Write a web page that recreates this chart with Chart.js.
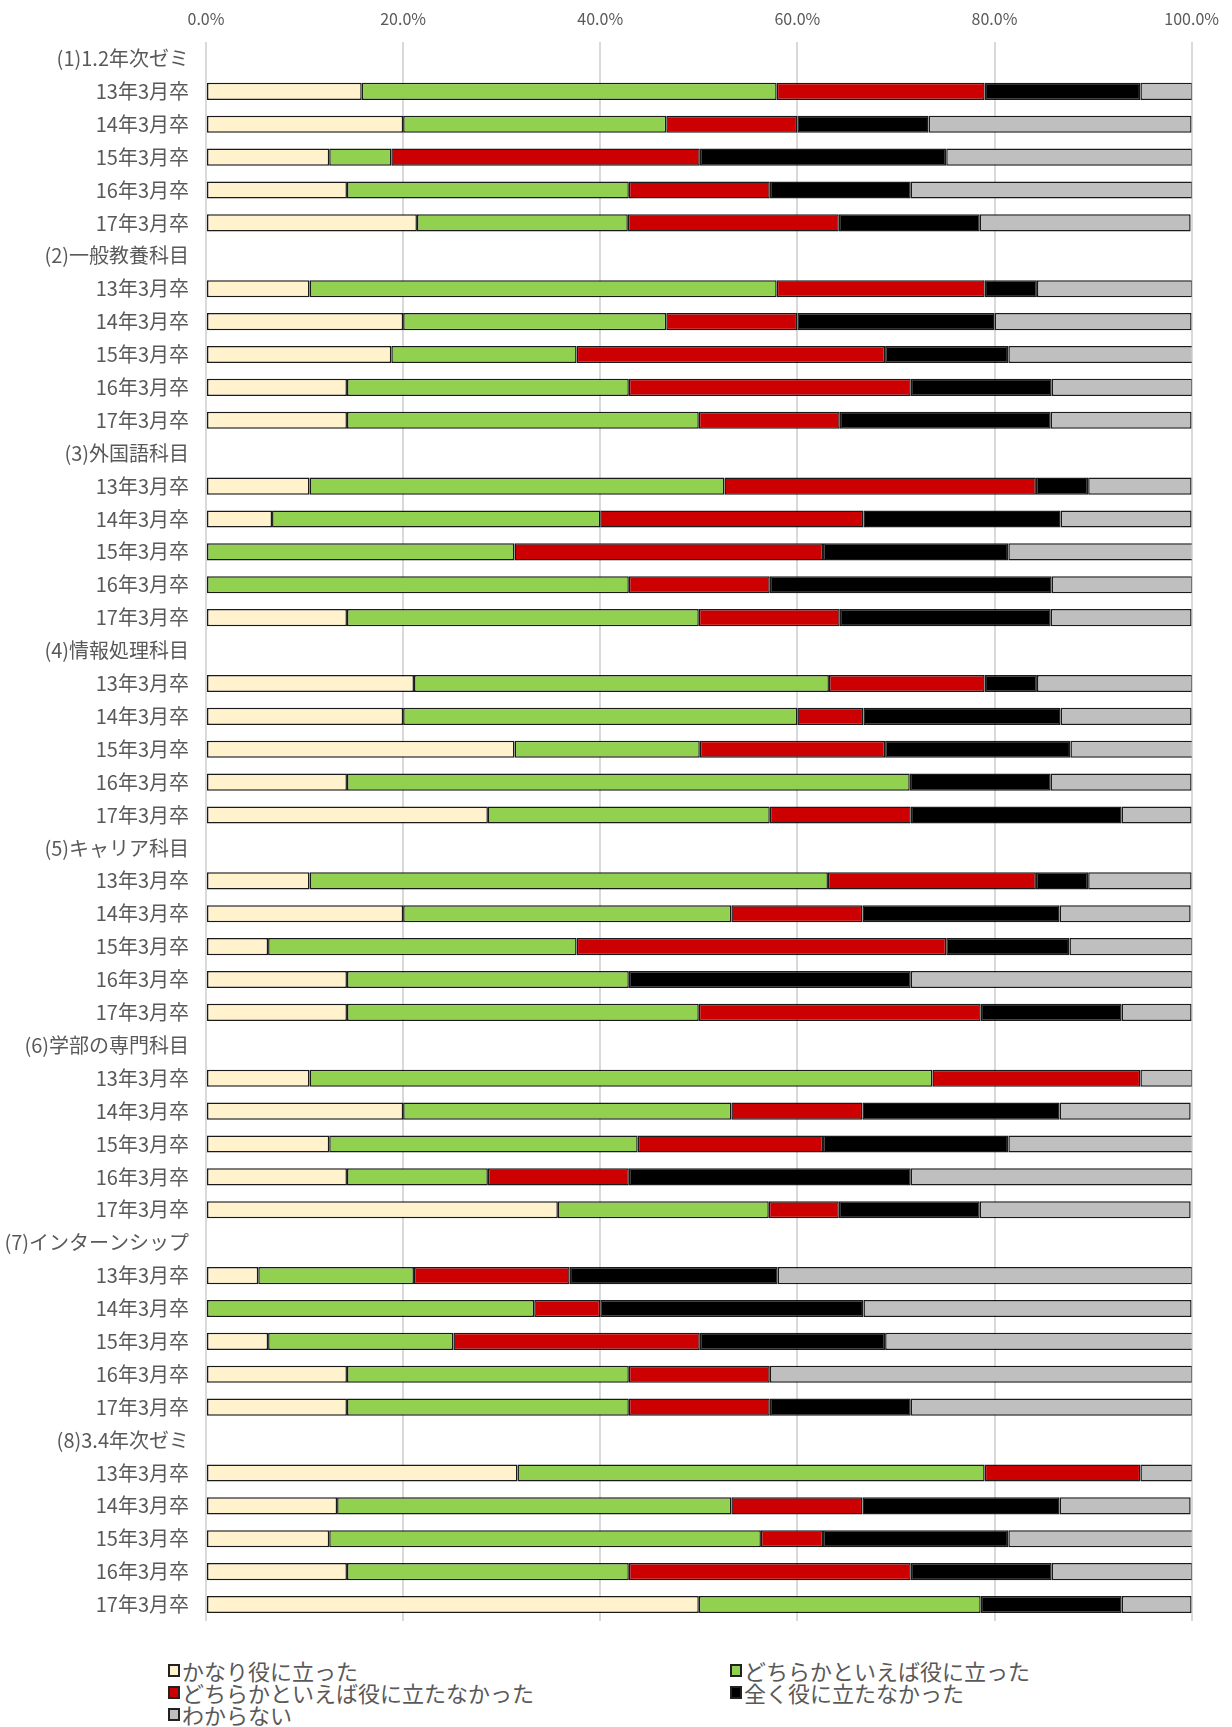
<!DOCTYPE html>
<html lang="ja">
<head>
<meta charset="utf-8">
<script src="https://cdn.jsdelivr.net/npm/chart.js@4.4.1/dist/chart.umd.min.js"></script>
<style>
  html, body { margin: 0; padding: 0; background: #fff; }
  #wrap { position: relative; width: 1232px; height: 1650px; }
  #legend {
    position: absolute; left: 168px; top: 1659px; width: 1064px;
    display: grid; grid-template-columns: 562px 500px;
    font-family: "Noto Sans CJK JP", sans-serif; font-size: 22px; color: #595959;
    line-height: 22px;
  }
  #legend .item { display: flex; align-items: center; height: 22px; white-space: nowrap; }
  #legend .box { width: 8px; height: 9px; border: 2px solid #222; margin-right: 2px; flex: none; }
</style>
</head>
<body>
<div id="wrap"><canvas id="chart"></canvas></div>
<div id="legend"></div>
<script>
// categories
var groups = ['(1)1.2年次ゼミ', '(2)一般教養科目', '(3)外国語科目', '(4)情報処理科目',
              '(5)キャリア科目', '(6)学部の専門科目', '(7)インターンシップ', '(8)3.4年次ゼミ'];
var years = ['13年3月卒', '14年3月卒', '15年3月卒', '16年3月卒', '17年3月卒'];

// series names
var seriesNames = ['かなり役に立った', 'どちらかといえば役に立った', 'どちらかといえば役に立たなかった',
                   '全く役に立たなかった', 'わからない'];

// values in %, one row per group, one value per year
var kanari = [
  [15.8, 20.0, 12.5, 14.3, 21.4],
  [10.5, 20.0, 18.8, 14.3, 14.3],
  [10.5, 6.7, 0, 0, 14.3],
  [21.1, 20.0, 31.3, 14.3, 28.6],
  [10.5, 20.0, 6.3, 14.3, 14.3],
  [10.5, 20.0, 12.5, 14.3, 35.7],
  [5.3, 0, 6.3, 14.3, 14.3],
  [31.6, 13.3, 12.5, 14.3, 50.0]
];
var dochiraYes = [
  [42.1, 26.7, 6.3, 28.6, 21.4],
  [47.4, 26.7, 18.8, 28.6, 35.7],
  [42.1, 33.3, 31.3, 42.9, 35.7],
  [42.1, 40.0, 18.8, 57.1, 28.6],
  [52.6, 33.3, 31.3, 28.6, 35.7],
  [63.2, 33.3, 31.3, 14.3, 21.4],
  [15.8, 33.3, 18.8, 28.6, 28.6],
  [47.4, 40.0, 43.8, 28.6, 28.6]
];
var dochiraNo = [
  [21.1, 13.3, 31.3, 14.3, 21.4],
  [21.1, 13.3, 31.3, 28.6, 14.3],
  [31.6, 26.7, 31.3, 14.3, 14.3],
  [15.8, 6.7, 18.8, 0, 14.3],
  [21.1, 13.3, 37.5, 0, 28.6],
  [21.1, 13.3, 18.8, 14.3, 7.1],
  [15.8, 6.7, 25.0, 14.3, 14.3],
  [15.8, 13.3, 6.3, 28.6, 0]
];
var mattaku = [
  [15.8, 13.3, 25.0, 14.3, 14.3],
  [5.3, 20.0, 12.5, 14.3, 21.4],
  [5.3, 20.0, 18.8, 28.6, 21.4],
  [5.3, 20.0, 18.8, 14.3, 21.4],
  [5.3, 20.0, 12.5, 28.6, 14.3],
  [0, 20.0, 18.8, 28.6, 14.3],
  [21.1, 26.7, 18.8, 0, 14.3],
  [0, 20.0, 18.8, 14.3, 14.3]
];
var wakaranai = [
  [5.3, 26.7, 25.0, 28.6, 21.4],
  [15.8, 20.0, 18.8, 14.3, 14.3],
  [10.5, 13.3, 18.8, 14.3, 14.3],
  [15.8, 13.3, 12.5, 14.3, 7.1],
  [10.5, 13.3, 12.5, 28.6, 7.1],
  [5.3, 13.3, 18.8, 28.6, 21.4],
  [42.1, 33.3, 31.3, 42.9, 28.6],
  [5.3, 13.3, 18.8, 14.3, 7.1]
];

var xTicks = [0, 20, 40, 60, 80, 100];

var colors = ['#FFF2CC', '#92D050', '#CC0000', '#000000', '#BFBFBF'];

// each group gets a header row (no bar) followed by its five years
var labels = [];
groups.forEach(function (g) {
  labels.push(g);
  years.forEach(function (y) { labels.push(y); });
});

function flatten(series) {
  var out = [];
  series.forEach(function (row) {
    out.push(null);
    row.forEach(function (v) { out.push(v); });
  });
  return out;
}

var allSeries = [kanari, dochiraYes, dochiraNo, mattaku, wakaranai];
var datasets = allSeries.map(function (s, i) {
  return {
    label: seriesNames[i],
    data: flatten(s),
    backgroundColor: colors[i],
    borderColor: '#1a1a1a',
    borderWidth: 1.5,
    borderSkipped: false,
    barPercentage: 0.52,
    categoryPercentage: 1
  };
});

var fontFamily = '"Noto Sans CJK JP", sans-serif';

var chart = new Chart(document.getElementById('chart'), {
  type: 'bar',
  data: { labels: labels, datasets: datasets },
  options: {
    indexAxis: 'y',
    responsive: true,
    maintainAspectRatio: false,
    animation: false,
    layout: { padding: { top: 0, right: 40, bottom: 28, left: 0 } },
    plugins: { legend: { display: false }, tooltip: { enabled: false } },
    scales: {
      x: {
        position: 'top',
        stacked: true,
        min: 0, max: 100,
        afterBuildTicks: function (scale) {
          scale.ticks = xTicks.map(function (v) { return { value: v }; });
        },
        afterFit: function (scale) { scale.height = 42; },
        grid: { color: '#D9D9D9', lineWidth: 2, drawTicks: false },
        border: { display: false },
        ticks: {
          padding: 13,
          color: '#595959',
          font: { family: fontFamily, size: 16 },
          callback: function (v) { return v.toFixed(1) + '%'; }
        }
      },
      y: {
        stacked: true,
        afterFit: function (scale) { scale.width = 206; },
        grid: { display: false, drawTicks: false },
        border: { display: false },
        ticks: {
          autoSkip: false,
          padding: 17,
          color: '#595959',
          font: { family: fontFamily, size: 20 }
        }
      }
    }
  }
});

// legend in two columns, built from the datasets
var legend = document.getElementById('legend');
chart.data.datasets.forEach(function (ds) {
  var item = document.createElement('div');
  item.className = 'item';
  var box = document.createElement('span');
  box.className = 'box';
  box.style.background = ds.backgroundColor;
  var txt = document.createElement('span');
  txt.textContent = ds.label;
  item.appendChild(box);
  item.appendChild(txt);
  legend.appendChild(item);
});
</script>
</body>
</html>
